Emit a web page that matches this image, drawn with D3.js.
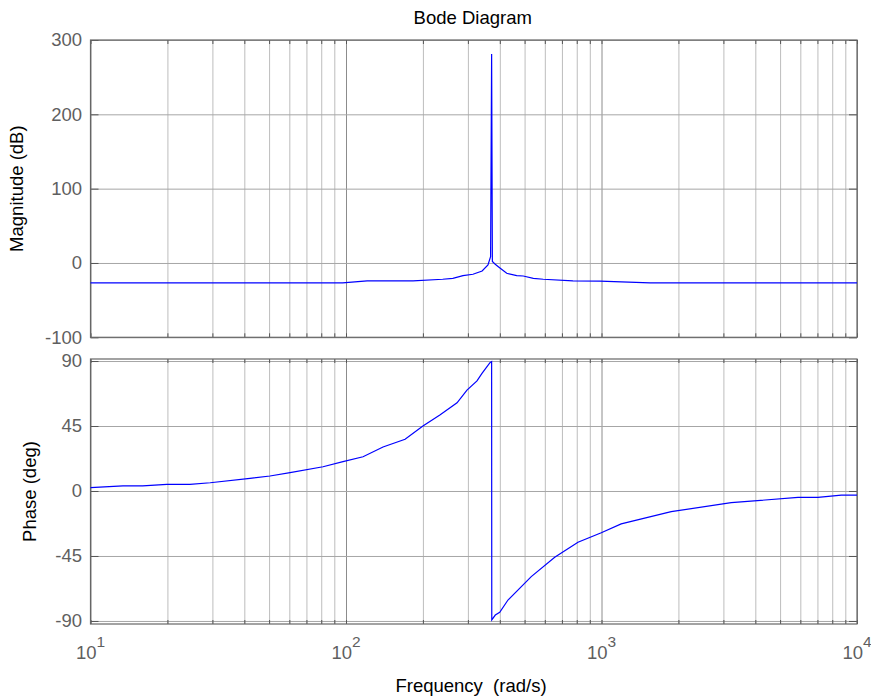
<!DOCTYPE html>
<html>
<head>
<meta charset="utf-8">
<script src="https://cdn.jsdelivr.net/npm/d3@7"></script>
<style>
    body { margin: 0; background: #fff; }
    svg { display: block; font-family: "Liberation Sans", Arial, sans-serif; }
    .domain { display: none; }
    .grid-minor line { stroke: #bdbdbd; }
    .grid-major line { stroke: #8c8c8c; }
    .grid-y line { stroke: #a6a6a6; }
    .inner-ticks line { stroke: #555; }
    .tick-labels text { fill: #5f5f5f; font-size: 18.5px; }
</style>
</head>
<body>
<svg id="chart-svg" width="871" height="698"></svg>
<script>
// magnitude curve (rad/s, dB)
const magFreq = [10, 97, 121, 183, 239, 262, 287, 314, 341, 359.5, 368, 371.5, 374, 382.8, 394.6, 425.6, 465.8, 494, 541, 592, 773, 986, 1549, 10000];
const magDb = [-26.9, -26.9, -24.2, -24.2, -21.9, -20.6, -17.1, -15.2, -10.8, -2.7, 8.5, 281, 2, -1.3, -5, -13.9, -17.1, -17.5, -20.6, -21.9, -24.2, -24.5, -26.9, -26.9];

// phase curve (rad/s, deg)
const phaseFreq = [10, 13.4, 16, 19.9, 24.5, 29.4, 42.1, 50.4, 60.4, 81.3, 97.3, 116.6, 139.6, 170.3, 200, 233, 272, 297.5, 325.6, 340.6, 366, 371.5, 372, 384, 399.6, 430.5, 531, 656, 809, 998, 1194, 1874, 3219, 5875, 7033, 8683, 10000];
const phaseDeg = [2.3, 3.5, 3.5, 4.6, 4.6, 5.7, 8.8, 10.4, 12.7, 16.8, 20.3, 23.7, 30.5, 35.8, 45, 52.6, 61.1, 69.9, 76.2, 81.5, 88.8, 89.6, -89.3, -85.9, -84, -75.5, -59.3, -45.9, -35.5, -28.9, -22.8, -14.3, -8.1, -4.4, -4.4, -2.8, -2.8];

const magTicks = [-100, 0, 100, 200, 300];
const phaseTicks = [-90, -45, 0, 45, 90];
const decades = [10, 100, 1000, 10000];
const exponents = ["1", "2", "3", "4"];

const svg = d3.select("#chart-svg");
const minorFreq = decades.slice(0, 3).flatMap(d => d3.range(2, 10).map(m => m * d));

const left = 90.5, right = 857;
const x = d3.scaleLog([10, 10000], [left, right]);

const panels = [
    {y: d3.scaleLinear([-100, 300], [337.3, 40]), ticks: magTicks, freq: magFreq, vals: magDb,
     label: "Magnitude (dB)", labelX: 23},
    {y: d3.scaleLinear([-92.1, 91.4], [624, 359]), ticks: phaseTicks, freq: phaseFreq, vals: phaseDeg,
     label: "Phase (deg)", labelX: 36},
];

panels.forEach(p => {
    const [bottom, top] = p.y.range();
    const h = bottom - top;
    const w = right - left;

    svg.append("g").attr("class", "grid-minor")
        .attr("transform", `translate(0, ${bottom})`)
        .call(d3.axisBottom(x).tickValues(minorFreq).tickSize(-h).tickFormat(""));
    svg.append("g").attr("class", "grid-major")
        .attr("transform", `translate(0, ${bottom})`)
        .call(d3.axisBottom(x).tickValues(decades).tickSize(-h).tickFormat(""));
    svg.append("g").attr("class", "grid-y")
        .attr("transform", `translate(${left}, 0)`)
        .call(d3.axisLeft(p.y).tickValues(p.ticks).tickSize(-w).tickFormat(""));

    // small inward ticks on all four sides
    const allFreq = minorFreq.concat(decades);
    svg.append("g").attr("class", "inner-ticks")
        .attr("transform", `translate(0, ${bottom})`)
        .call(d3.axisBottom(x).tickValues(allFreq).tickSize(-4).tickFormat(""));
    svg.append("g").attr("class", "inner-ticks")
        .attr("transform", `translate(0, ${top})`)
        .call(d3.axisTop(x).tickValues(allFreq).tickSize(-4).tickFormat(""));
    svg.append("g").attr("class", "inner-ticks")
        .attr("transform", `translate(${left}, 0)`)
        .call(d3.axisLeft(p.y).tickValues(p.ticks).tickSize(-8).tickFormat(""));
    svg.append("g").attr("class", "inner-ticks")
        .attr("transform", `translate(${right}, 0)`)
        .call(d3.axisRight(p.y).tickValues(p.ticks).tickSize(-8).tickFormat(""));

    svg.append("rect")
        .attr("x", left).attr("y", top)
        .attr("width", w).attr("height", h)
        .attr("fill", "none").attr("stroke", "#666").attr("stroke-width", 1.2);

    svg.append("g").attr("class", "tick-labels")
        .attr("transform", `translate(${left}, 0)`)
        .call(d3.axisLeft(p.y).tickValues(p.ticks).tickSize(0).tickPadding(8.5).tickFormat(d => String(d)));

    const line = d3.line().x((d, i) => x(p.freq[i])).y(d => p.y(d));
    svg.append("path")
        .datum(p.vals)
        .attr("d", line)
        .attr("fill", "none")
        .attr("stroke", "#0000ff")
        .attr("stroke-width", 1.2);

    svg.append("text")
        .attr("transform", `translate(${p.labelX}, ${(top + bottom) / 2}) rotate(-90)`)
        .attr("text-anchor", "middle")
        .attr("font-size", "18.5px")
        .attr("fill", "#000")
        .text(p.label);
});

// 10^n labels under the phase panel
const xLabels = svg.append("g").attr("class", "tick-labels")
    .selectAll("text")
    .data(decades)
    .join("text")
    .attr("x", d => x(d))
    .attr("y", 659)
    .attr("text-anchor", "middle");
xLabels.append("tspan").text("10");
xLabels.append("tspan")
    .attr("dy", -12)
    .attr("font-size", "15.5px")
    .text((d, i) => exponents[i]);

svg.append("text")
    .attr("x", (left + right) / 2 - 1)
    .attr("y", 24)
    .attr("text-anchor", "middle")
    .attr("font-size", "18.5px")
    .text("Bode Diagram");

svg.append("text")
    .attr("x", 471)
    .attr("y", 692)
    .attr("text-anchor", "middle")
    .attr("font-size", "18.5px")
    .attr("xml:space", "preserve")
    .style("white-space", "pre")
    .text("Frequency  (rad/s)");
</script>
</body>
</html>
